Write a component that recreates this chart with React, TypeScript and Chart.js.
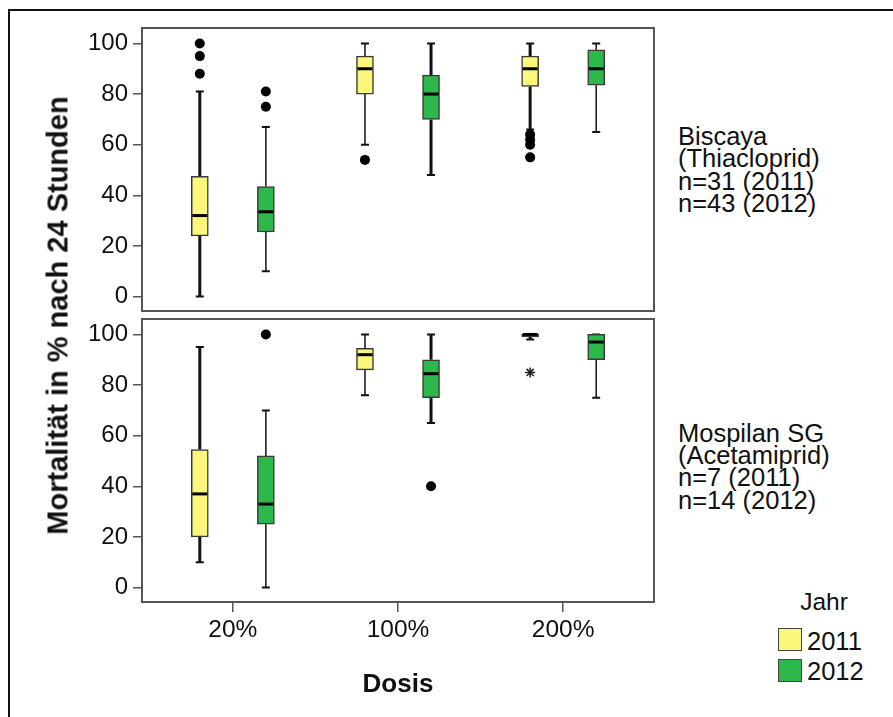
import React, { useEffect, useRef } from 'react';
import { Chart, registerables } from 'chart.js';

Chart.register(...registerables);

const FONT = "'Liberation Sans', Arial, sans-serif";

const DOSES = ['20%', '100%', '200%'];
const YEARS = ['2011', '2012'];
const Y_TICKS = [0, 20, 40, 60, 80, 100];

// [min, q1, median, q3, max] per dose
const BISCAYA_2011 = [[0, 24, 32, 47.5, 81], [60, 80, 90, 95, 100], [66, 83, 90, 95, 100]];
const BISCAYA_2012 = [[10, 25.5, 33.5, 43.5, 67], [48, 70, 80, 87.5, 100], [65, 83.5, 90, 97.5, 100]];
const BISCAYA_2011_OUT = [[100, 95, 88], [54], [64, 62, 60, 55]];
const BISCAYA_2012_OUT = [[81, 75], [], []];
const BISCAYA_2011_EXT = [[], [], []];
const BISCAYA_2012_EXT = [[], [], []];

const MOSPILAN_2011 = [[10, 20, 37, 54.5, 95], [76, 86, 92, 94.5, 100], [98, 99, 100, 100, 100]];
const MOSPILAN_2012 = [[0, 25, 33, 52, 70], [65, 75, 84.5, 90, 100], [75, 90, 97, 100, 100]];
const MOSPILAN_2011_OUT = [[], [], []];
const MOSPILAN_2012_OUT = [[100], [40], []];
const MOSPILAN_2011_EXT = [[], [], [85]];
const MOSPILAN_2012_EXT = [[], [], []];

const BISCAYA_TEXT = ['Biscaya', '(Thiacloprid)', 'n=31 (2011)', 'n=43 (2012)'];
const MOSPILAN_TEXT = ['Mospilan SG', '(Acetamiprid)', 'n=7 (2011)', 'n=14 (2012)'];

// styles
const OFFSETS = [-0.2, 0.2];
const COLORS = ['#FBF77A', '#2DB84B'];
const WHISKER_W = [[3, 1.5], [1.5, 3], [3, 1.5]];
const BOX_W = 17;
const CAP_W = 8;

function makePlugin(stats: number[][][]) {
  return {
    id: 'boxExtras',
    beforeDatasetsDraw(chart: any) {
      const { ctx, scales } = chart;
      const x = scales.x, y = scales.y;
      ctx.save();
      ctx.strokeStyle = '#111';
      stats.forEach((series, si) =>
        series.forEach((s, ci) => {
          const px = x.getPixelForValue(ci + OFFSETS[si]);
          const [mn, q1, , q3, mx] = s;
          ctx.lineWidth = WHISKER_W[ci][si];
          ctx.beginPath();
          ctx.moveTo(px, y.getPixelForValue(mn));
          ctx.lineTo(px, y.getPixelForValue(q1));
          ctx.moveTo(px, y.getPixelForValue(q3));
          ctx.lineTo(px, y.getPixelForValue(mx));
          ctx.stroke();
          ctx.lineWidth = 2;
          ctx.beginPath();
          ctx.moveTo(px - CAP_W / 2, y.getPixelForValue(mn));
          ctx.lineTo(px + CAP_W / 2, y.getPixelForValue(mn));
          ctx.moveTo(px - CAP_W / 2, y.getPixelForValue(mx));
          ctx.lineTo(px + CAP_W / 2, y.getPixelForValue(mx));
          ctx.stroke();
        })
      );
      ctx.restore();
    },
    afterDatasetsDraw(chart: any) {
      const { ctx, scales } = chart;
      const x = scales.x, y = scales.y;
      ctx.save();
      ctx.strokeStyle = '#000';
      ctx.lineWidth = 3;
      stats.forEach((series, si) =>
        series.forEach((s, ci) => {
          const px = x.getPixelForValue(ci + OFFSETS[si]);
          const py = y.getPixelForValue(s[2]);
          ctx.beginPath();
          ctx.moveTo(px - BOX_W / 2 + 1, py);
          ctx.lineTo(px + BOX_W / 2 - 1, py);
          ctx.stroke();
        })
      );
      const a = chart.chartArea;
      ctx.strokeStyle = '#555';
      ctx.lineWidth = 2;
      ctx.strokeRect(a.left, a.top, a.right - a.left, a.bottom - a.top);
      ctx.restore();
    },
  };
}

type PanelProps = {
  stats: number[][][];
  outliers: number[][][];
  extremes: number[][][];
  top: number;
  height: number;
  padTop: number;
  padBottom: number;
  showX: boolean;
};

function BoxPanel({ stats, outliers, extremes, top, height, padTop, padBottom, showX }: PanelProps) {
  const ref = useRef<HTMLCanvasElement>(null);
  useEffect(() => {
    if (!ref.current) return;
    const datasets: any[] = [
      ...stats.map((series, si) => ({
        type: 'bar',
        label: YEARS[si],
        data: series.map((s, ci) => ({ x: ci + OFFSETS[si], y: [s[1], s[3]] })),
        backgroundColor: COLORS[si],
        borderColor: '#3a3a3a',
        borderWidth: 1.5,
        borderSkipped: false,
        barThickness: BOX_W,
        grouped: false,
      })),
      ...outliers.map((series, si) => ({
        type: 'scatter',
        data: series.flatMap((vals, ci) => vals.map((v) => ({ x: ci + OFFSETS[si], y: v }))),
        pointStyle: 'circle',
        pointRadius: 5,
        backgroundColor: '#000',
        borderColor: '#000',
        borderWidth: 0,
      })),
      ...extremes.map((series, si) => ({
        type: 'scatter',
        data: series.flatMap((vals, ci) => vals.map((v) => ({ x: ci + OFFSETS[si], y: v }))),
        pointStyle: 'star',
        pointRadius: 5,
        backgroundColor: '#222',
        borderColor: '#222',
        borderWidth: 1.5,
      })),
    ];
    const chart = new Chart(ref.current, {
      type: 'bar',
      data: { datasets },
      options: {
        animation: false,
        responsive: false,
        devicePixelRatio: 1,
        events: [],
        layout: { padding: { top: padTop, bottom: padBottom, left: 0, right: 16 } },
        plugins: { legend: { display: false }, tooltip: { enabled: false } },
        scales: {
          x: {
            type: 'linear',
            min: -0.55,
            max: 2.55,
            offset: false,
            display: showX,
            afterBuildTicks: (s: any) => {
              s.ticks = DOSES.map((_, i) => ({ value: i }));
            },
            ticks: {
              callback: (v: any) => DOSES[Math.round(Number(v))] ?? '',
              font: { family: FONT, size: 24.5 },
              color: '#111',
              padding: 4,
              maxRotation: 0,
              autoSkip: false,
            },
            grid: {
              offset: false,
              drawOnChartArea: false,
              drawTicks: true,
              tickLength: 10,
              tickColor: '#555',
              lineWidth: 1.5,
            },
            border: { display: false },
            afterFit: (s: any) => {
              s.height = showX ? 115 : 0;
            },
          } as any,
          y: {
            type: 'linear',
            min: -5.7,
            max: 106.1,
            afterBuildTicks: (s: any) => {
              s.ticks = Y_TICKS.map((v) => ({ value: v }));
            },
            ticks: {
              font: { family: FONT, size: 24 },
              color: '#111',
              padding: 5,
              autoSkip: false,
            },
            grid: { drawOnChartArea: false, drawTicks: true, tickLength: 9, tickColor: '#555', lineWidth: 1.5 },
            border: { display: false },
            afterFit: (s: any) => {
              s.width = 142;
            },
          } as any,
        },
      },
      plugins: [makePlugin(stats)],
    } as any);
    return () => chart.destroy();
  }, []);
  return (
    <canvas
      ref={ref}
      width={670}
      height={height}
      style={{ position: 'absolute', left: 0, top, width: 670, height }}
    />
  );
}

function SideText({ lines, top }: { lines: string[]; top: number }) {
  return (
    <div
      style={{
        position: 'absolute',
        left: 678,
        top,
        fontFamily: FONT,
        fontSize: 25.5,
        lineHeight: '22.4px',
        color: '#111',
        whiteSpace: 'pre',
      }}
    >
      {lines.map((l, i) => (
        <div key={i}>{l}</div>
      ))}
    </div>
  );
}

export default function App() {
  return (
    <div
      style={{
        position: 'fixed',
        left: 0,
        top: 0,
        width: 893,
        height: 717,
        background: '#fff',
        overflow: 'hidden',
        fontFamily: FONT,
      }}
    >
      <div
        style={{
          position: 'absolute',
          left: 8,
          top: 9,
          width: 900,
          height: 720,
          borderLeft: '2px solid #111',
          borderTop: '2px solid #111',
        }}
      />
      <BoxPanel
        stats={[BISCAYA_2011, BISCAYA_2012]}
        outliers={[BISCAYA_2011_OUT, BISCAYA_2012_OUT]}
        extremes={[BISCAYA_2011_EXT, BISCAYA_2012_EXT]}
        top={0}
        height={340}
        padTop={28}
        padBottom={29}
        showX={false}
      />
      <BoxPanel
        stats={[MOSPILAN_2011, MOSPILAN_2012]}
        outliers={[MOSPILAN_2011_OUT, MOSPILAN_2012_OUT]}
        extremes={[MOSPILAN_2011_EXT, MOSPILAN_2012_EXT]}
        top={290}
        height={427}
        padTop={29}
        padBottom={0}
        showX={true}
      />
      <div
        style={{
          position: 'absolute',
          left: 58 - 250,
          top: 315.5 - 14.5,
          width: 500,
          height: 29,
          lineHeight: '29px',
          textAlign: 'center',
          fontSize: 29,
          fontWeight: 'bold',
          color: '#111',
          transform: 'rotate(-90deg)',
          whiteSpace: 'nowrap',
        }}
      >
        Mortalität in % nach 24 Stunden
      </div>
      <div
        style={{
          position: 'absolute',
          left: 298,
          top: 670,
          width: 200,
          lineHeight: '26px',
          textAlign: 'center',
          fontSize: 26,
          fontWeight: 'bold',
          color: '#111',
        }}
      >
        Dosis
      </div>
      <SideText lines={BISCAYA_TEXT} top={125} />
      <SideText lines={MOSPILAN_TEXT} top={421.5} />
      <div
        style={{
          position: 'absolute',
          left: 774,
          top: 588,
          width: 100,
          textAlign: 'center',
          fontSize: 24.5,
          lineHeight: '28px',
          color: '#111',
        }}
      >
        Jahr
      </div>
      {YEARS.map((yr, i) => (
        <React.Fragment key={yr}>
          <div
            style={{
              position: 'absolute',
              left: 778,
              top: 628 + i * 31,
              width: 22,
              height: 21,
              background: COLORS[i],
              border: '1px solid #444',
            }}
          />
          <div
            style={{
              position: 'absolute',
              left: 807,
              top: 627 + i * 30,
              fontSize: 25.5,
              lineHeight: '28px',
              color: '#111',
            }}
          >
            {yr}
          </div>
        </React.Fragment>
      ))}
    </div>
  );
}
